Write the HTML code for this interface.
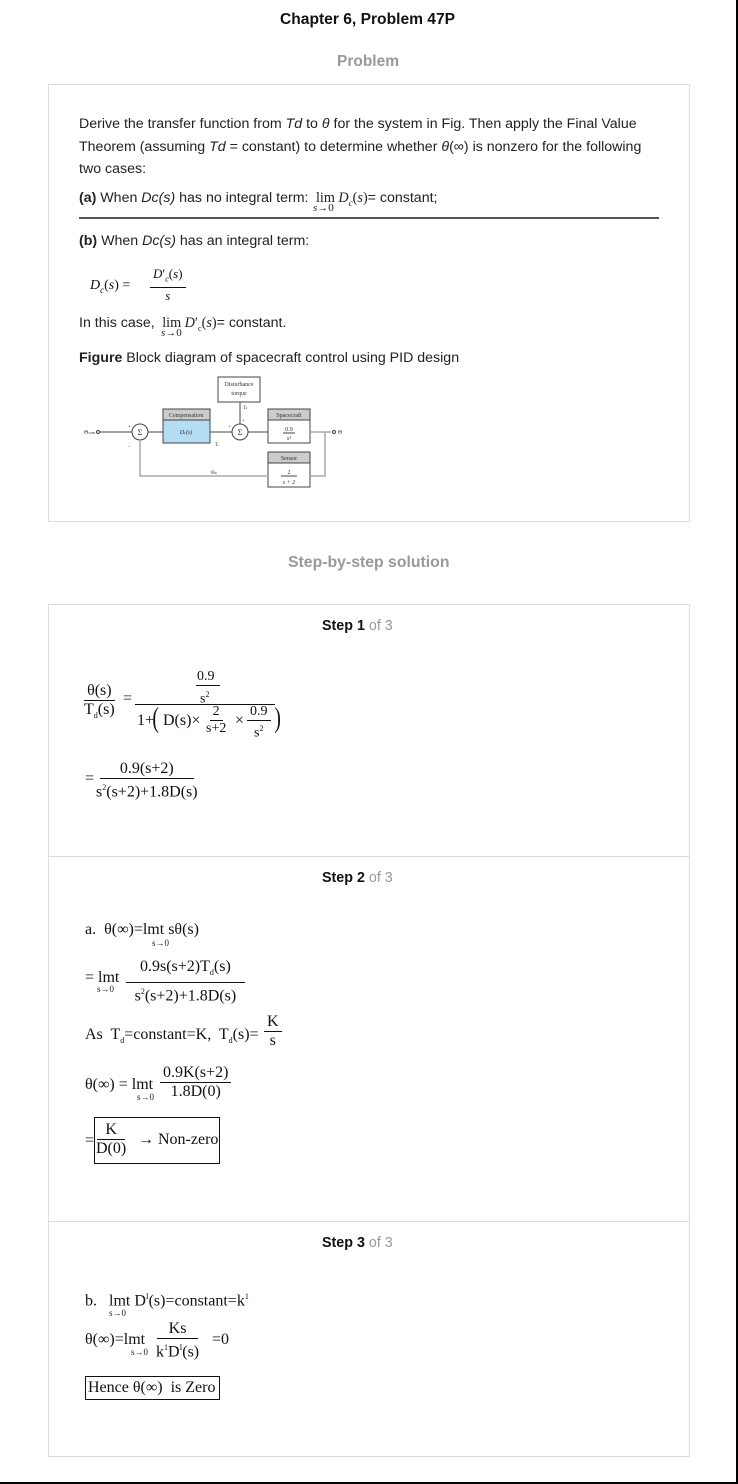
<!DOCTYPE html>
<html><head><meta charset="utf-8"><style>
*{margin:0;padding:0;box-sizing:border-box}
body{width:738px;height:1484px;position:relative;background:#fff;font-family:"Liberation Sans",sans-serif;color:#222;overflow:hidden}
.a{position:absolute;white-space:nowrap}
.s{font-size:14.2px;line-height:16px}
.m{font-family:"Liberation Serif",serif;font-size:16px;line-height:18px;color:#111}
.fr{position:absolute;display:flex;flex-direction:column;align-items:center;font-family:"Liberation Serif",serif;font-size:16px;color:#111;line-height:18px}
.fr .n{border-bottom:1px solid #111;padding:0 3px}
.sub{font-size:9px;position:absolute;white-space:nowrap;font-family:"Liberation Serif",serif}
.box{position:absolute;border:1px solid #ddd}
.step{font-size:14.3px;font-weight:bold;color:#111}
.step span{font-weight:normal;color:#999}
</style></head><body>
<div style="position:absolute;left:736px;top:0;width:2px;height:1484px;background:#000"></div>
<div style="position:absolute;left:0;top:1482px;width:738px;height:2px;background:#000"></div>

<div class="a" style="left:280px;top:11px;font-size:15.6px;font-weight:bold;color:#111">Chapter 6, Problem 47P</div>
<div class="a" style="left:337px;top:53px;font-size:15.5px;font-weight:bold;color:#999">Problem</div>

<div class="box" style="left:48px;top:84px;width:642px;height:438px"></div>
<div class="a s" style="left:79px;top:116px">Derive the transfer function from <i>Td</i> to <i>θ</i> for the system in Fig. Then apply the Final Value</div>
<div class="a s" style="left:79px;top:139px">Theorem (assuming <i>Td</i> = constant) to determine whether <i>θ</i>(∞) is nonzero for the following</div>
<div class="a s" style="left:79px;top:161px">two cases:</div>
<div class="a s" style="left:79px;top:190px"><b>(a)</b> When <i>Dc(s)</i> has no integral term: <span style="font-family:'Liberation Serif';">&nbsp;lim&nbsp;<i>D<sub style="font-size:9px">c</sub></i>(<i>s</i>)</span>= constant;</div>
<div class="sub" style="left:313px;top:202px;font-size:11px"><i>s</i>→0</div>
<div style="position:absolute;left:79px;top:217px;width:580px;height:2px;background:#555"></div>
<div class="a s" style="left:79px;top:233px"><b>(b)</b> When <i>Dc(s)</i> has an integral term:</div>
<div class="a m" style="left:90px;top:277px;font-size:14px"><i>D<sub style="font-size:9px">c</sub></i>(<i>s</i>) =</div>
<div class="fr" style="left:150px;top:266px;font-size:13px;line-height:15px"><div class="n"><i>D</i>′<sub style="font-size:8px"><i>c</i></sub>(<i>s</i>)</div><div><i>s</i></div></div>
<div class="a s" style="left:79px;top:315px">In this case, <span style="font-family:'Liberation Serif'">&nbsp;lim&nbsp;<i>D</i>′<sub style="font-size:8px">c</sub>(<i>s</i>)</span>= constant.</div>
<div class="sub" style="left:161px;top:327px;font-size:11px"><i>s</i>→0</div>
<div class="a s" style="left:79px;top:350px"><b>Figure</b> Block diagram of spacecraft control using PID design</div>

<svg style="position:absolute;left:70px;top:370px" width="300" height="130" viewBox="70 370 300 130" font-family="Liberation Serif" fill="none" stroke="#444" stroke-width="1">
<rect x="218" y="377" width="42" height="25" fill="#fff"/>
<text x="239" y="386" font-size="6" text-anchor="middle" fill="#333" stroke="none">Disturbance</text>
<text x="239" y="395" font-size="6" text-anchor="middle" fill="#333" stroke="none">torque</text>
<rect x="163" y="409" width="47" height="34" fill="#b4ddf3"/>
<rect x="163" y="409" width="47" height="11" fill="#ccc"/>
<text x="186" y="417" font-size="6" text-anchor="middle" fill="#333" stroke="none">Compensation</text>
<text x="186" y="434" font-size="6" text-anchor="middle" fill="#333" stroke="none" font-style="italic">D<tspan font-size="4">c</tspan>(s)</text>
<rect x="268" y="409" width="42" height="34" fill="#fff"/>
<rect x="268" y="409" width="42" height="11" fill="#ccc"/>
<text x="289" y="417" font-size="6" text-anchor="middle" fill="#333" stroke="none">Spacecraft</text>
<text x="289" y="431" font-size="6" text-anchor="middle" fill="#333" stroke="none">0.9</text>
<line x1="283" y1="433" x2="295" y2="433"/>
<text x="289" y="440" font-size="6" text-anchor="middle" fill="#333" stroke="none" font-style="italic">s²</text>
<rect x="268" y="452" width="42" height="35" fill="#fff"/>
<rect x="268" y="452" width="42" height="11" fill="#ccc"/>
<text x="289" y="460" font-size="6" text-anchor="middle" fill="#333" stroke="none">Sensor</text>
<text x="289" y="474" font-size="6" text-anchor="middle" fill="#333" stroke="none">2</text>
<line x1="281" y1="476" x2="297" y2="476"/>
<text x="289" y="484" font-size="6" text-anchor="middle" fill="#333" stroke="none" font-style="italic">s + 2</text>
<circle cx="140" cy="432" r="8" fill="#fff"/>
<text x="140" y="435" font-size="8" text-anchor="middle" fill="#333" stroke="none">Σ</text>
<circle cx="240" cy="432" r="8" fill="#fff"/>
<text x="240" y="435" font-size="8" text-anchor="middle" fill="#333" stroke="none">Σ</text>
<text x="84" y="434" font-size="6" fill="#333" stroke="none">Θ<tspan font-size="4">com</tspan></text>
<circle cx="98" cy="432" r="1.5" fill="#fff"/>
<line x1="100" y1="432" x2="132" y2="432"/>
<line x1="148" y1="432" x2="163" y2="432"/>
<line x1="210" y1="432" x2="232" y2="432"/>
<line x1="248" y1="432" x2="268" y2="432"/>
<line x1="240" y1="402" x2="240" y2="424"/>
<line x1="310" y1="432" x2="331" y2="432" stroke="#aaa" stroke-width="1.5"/>
<circle cx="334" cy="432" r="1.5" fill="#fff"/>
<text x="338" y="434" font-size="6" fill="#333" stroke="none">Θ</text>
<polyline points="325,432 325,476 310,476" stroke="#aaa" stroke-width="1.5"/>
<polyline points="268,476 140,476 140,440" stroke="#aaa" stroke-width="1.5"/>
<text x="243" y="409" font-size="5" fill="#333" stroke="none" font-style="italic">T<tspan font-size="3">d</tspan></text>
<text x="215" y="446" font-size="5" fill="#333" stroke="none" font-style="italic">T<tspan font-size="3">c</tspan></text>
<text x="211" y="474" font-size="5" fill="#333" stroke="none">Θ<tspan font-size="3">m</tspan></text>
<text x="128" y="428" font-size="5" fill="#333" stroke="none">+</text>
<text x="128" y="448" font-size="5" fill="#333" stroke="none">−</text>
<text x="228" y="428" font-size="5" fill="#333" stroke="none">+</text>
<text x="242" y="422" font-size="5" fill="#333" stroke="none">+</text>
</svg>

<div class="a" style="left:288px;top:554px;font-size:15.8px;font-weight:bold;color:#999">Step-by-step solution</div>

<div class="box" style="left:48px;top:604px;width:642px;height:853px"></div>
<div style="position:absolute;left:49px;top:856px;width:640px;height:1px;background:#ddd"></div>
<div style="position:absolute;left:49px;top:1221px;width:640px;height:1px;background:#ddd"></div>
<div class="a step" style="left:322px;top:618px">Step 1 <span>of 3</span></div>
<div class="a step" style="left:322px;top:870px">Step 2 <span>of 3</span></div>
<div class="a step" style="left:322px;top:1235px">Step 3 <span>of 3</span></div>

<!-- Step 1 -->
<div class="fr" style="left:84px;top:682px"><div class="n">θ(s)</div><div>T<sub style="font-size:8px">d</sub>(s)</div></div>
<div class="a m" style="left:123px;top:690px">=</div>
<div class="a m" style="left:197px;top:668px;font-size:14px">0.9</div>
<div style="position:absolute;left:196px;top:685px;width:24px;height:1px;background:#111"></div>
<div class="a m" style="left:200px;top:686px;font-size:14px">s<sup style="font-size:8px">2</sup></div>
<div style="position:absolute;left:135px;top:704px;width:140px;height:1px;background:#111"></div>
<div class="a m" style="left:137px;top:712px">1+</div>
<div class="a m" style="left:151px;top:703px;font-size:28px;line-height:32px;transform:scaleX(0.7)">(</div>
<div class="a m" style="left:163px;top:712px">D(s)×</div>
<div class="fr" style="left:206px;top:704px;font-size:14px;line-height:16px"><div class="n">2</div><div>s+2</div></div>
<div class="a m" style="left:235px;top:712px">×</div>
<div class="fr" style="left:247px;top:704px;font-size:14px;line-height:16px"><div class="n">0.9</div><div>s<sup style="font-size:8px">2</sup></div></div>
<div class="a m" style="left:273px;top:703px;font-size:28px;line-height:32px;transform:scaleX(0.7)">)</div>
<div class="a m" style="left:85px;top:770px">=</div>
<div class="fr" style="left:96px;top:760px"><div class="n" style="padding:0 20px">0.9(s+2)</div><div>s<sup style="font-size:8px">2</sup>(s+2)+1.8D(s)</div></div>

<!-- Step 2 -->
<div class="a m" style="left:85px;top:921px">a.&nbsp; θ(∞)=lmt sθ(s)</div>
<div class="sub" style="left:152px;top:938px">s→0</div>
<div class="a m" style="left:85px;top:969px">= lmt</div>
<div class="sub" style="left:97px;top:984px">s→0</div>
<div class="fr" style="left:126px;top:958px"><div class="n" style="padding:0 14px">0.9s(s+2)T<sub style="font-size:8px">d</sub>(s)</div><div>s<sup style="font-size:8px">2</sup>(s+2)+1.8D(s)</div></div>
<div class="a m" style="left:85px;top:1026px">As&nbsp; T<sub style="font-size:8px">d</sub>=constant=K,&nbsp; T<sub style="font-size:8px">d</sub>(s)=</div>
<div class="fr" style="left:264px;top:1013px"><div class="n">K</div><div>s</div></div>
<div class="a m" style="left:85px;top:1076px">θ(∞) = lmt</div>
<div class="sub" style="left:137px;top:1092px">s→0</div>
<div class="fr" style="left:160px;top:1064px"><div class="n">0.9K(s+2)</div><div>1.8D(0)</div></div>
<div class="a m" style="left:85px;top:1132px">=</div>
<div style="position:absolute;left:94px;top:1117px;width:126px;height:47px;border:1px solid #111"></div>
<div class="fr" style="left:96px;top:1121px"><div class="n" style="padding:0 8px">K</div><div>D(0)</div></div>
<div class="a m" style="left:138px;top:1131px">→ Non-zero</div>

<!-- Step 3 -->
<div class="a m" style="left:85px;top:1288px">b.&nbsp;&nbsp; lmt D<sup style="font-size:8px">I</sup>(s)=constant=k<sup style="font-size:8px">1</sup></div>
<div class="sub" style="left:109px;top:1308px">s→0</div>
<div class="a m" style="left:85px;top:1331px">θ(∞)=lmt</div>
<div class="sub" style="left:131px;top:1347px">s→0</div>
<div class="fr" style="left:156px;top:1320px"><div class="n" style="padding:0 12px">Ks</div><div>k<sup style="font-size:8px">1</sup>D<sup style="font-size:8px">I</sup>(s)</div></div>
<div class="a m" style="left:212px;top:1331px">=0</div>
<div style="position:absolute;left:85px;top:1376px;width:135px;height:24px;border:1px solid #111"></div>
<div class="a m" style="left:88px;top:1379px">Hence θ(∞)&nbsp; is Zero</div>
</body></html>
